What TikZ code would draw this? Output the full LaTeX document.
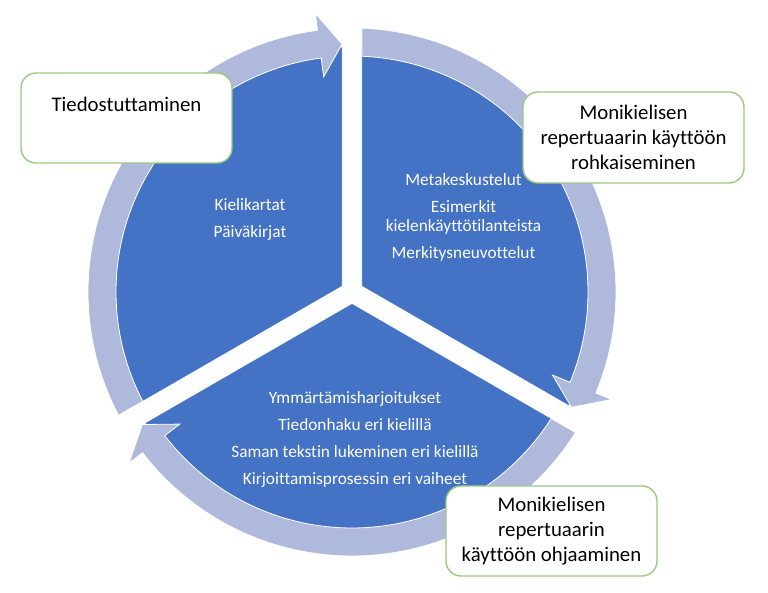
\documentclass[tikz,border=0pt]{standalone}
\usepackage{fontspec}
\setmainfont{Carlito}[Ligatures=NoCommon]
\definecolor{secblue}{HTML}{4472C4}
\definecolor{ringblue}{HTML}{AEB9DC}
\definecolor{boxgreen}{HTML}{9CC87F}
\begin{document}
\begin{tikzpicture}[x=1pt,y=1pt,
  sector/.style={fill=secblue, draw=white, line width=0.5pt},
  ringarrow/.style={fill=ringblue, draw=white, line width=0.8pt, line join=miter},
  seclabel/.style={text=white, font=\fontsize{17.3}{19}\selectfont, align=center},
  notebox/.style={draw=boxgreen, line width=1.4pt, fill=white, rounded corners=15pt,
    font=\fontsize{20.8}{25}\selectfont, align=center, inner sep=0pt, text=black}]
\useasboundingbox (-352,-301) rectangle (416,292);
% pie sectors (exploded)
\foreach \r in {0,-120,-240} {
  \begin{scope}[rotate=\r, shift={(150:11.5)}]
    \path[sector] (0,0) -- (90:239) arc[start angle=90, end angle=210, radius=239] -- cycle;
  \end{scope}
}
% circular arrows
\foreach \r in {0,-120,-240} {
  \begin{scope}[rotate=\r]
    \path[ringarrow] (207.83:264) arc[start angle=207.83, end angle=97.5, radius=264]
      -- (97.5:281) -- (92.3:248) -- (97.5:217) -- (97.5:236)
      arc[start angle=97.5, end angle=207.58, radius=236] -- cycle;
  \end{scope}
}
% sector texts
\node[seclabel] (tl) at (-102,72.3) {Kielikartat\\[8pt]Päiväkirjat};
\node[seclabel] (tr) at (111.5,74.5) {Metakeskustelut\\[8pt]Esimerkit\\kielenkäyttötilanteista\\[8pt]Merkitysneuvottelut};
\node[seclabel] (bt) at (3,-147.9) {Ymmärtämisharjoitukset\\[8pt]Tiedonhaku eri kielillä\\[8pt]Saman tekstin lukeminen eri kielillä\\[8pt]Kirjoittamisprosessin eri vaiheet};
% boxes
\node[notebox, minimum width=211pt, text height=39pt, text depth=51pt, anchor=base] (b1) at (-225.5,180) {Tiedostuttaminen};
\node[notebox, minimum width=221pt, minimum height=91pt] (b2) at (281.5,154.5) {Monikielisen\\repertuaarin käyttöön\\rohkaiseminen};
\node[notebox, minimum width=211pt, minimum height=90pt] (b3) at (199.5,-239) {Monikielisen\\repertuaarin\\käyttöön ohjaaminen};
\end{tikzpicture}
\end{document}
